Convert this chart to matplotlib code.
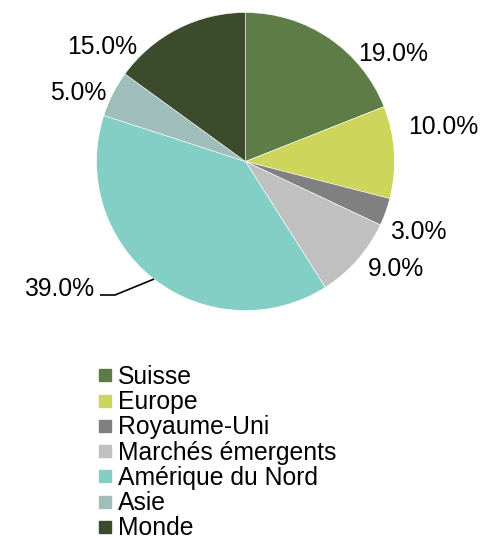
import matplotlib
matplotlib.use("Agg")
import matplotlib.pyplot as plt
from matplotlib.lines import Line2D

plt.rcParams['font.family'] = ['Liberation Sans', 'DejaVu Sans']

categories = ["Suisse", "Europe", "Royaume-Uni", "Marchés émergents",
              "Amérique du Nord", "Asie", "Monde"]
values = [19.0, 10.0, 3.0, 9.0, 39.0, 5.0, 15.0]
colors = ["#5e7d46", "#cdd55a", "#808080", "#c0c0c0", "#84cfc5", "#9ebdbb", "#3b4b2b"]
label_pos = [(0.99, 0.72), (1.33, 0.23), (1.16, -0.475), (1.01, -0.72),
             (-1.25, -0.855), (-1.12, 0.46), (-0.96, 0.77)]

W, H = 482, 537
fig = plt.figure(figsize=(W / 100, H / 100), dpi=100)
cx, cy, R = 245.5, 161.5, 149.0
ax_h = 340
ax = fig.add_axes([0, (H - ax_h) / H, 1, ax_h / H])
wedges, _ = ax.pie(values, colors=colors, startangle=90, counterclock=False,
                   radius=1.0, wedgeprops=dict(edgecolor="white", linewidth=0.4))
ax.set_aspect('auto')
ax.set_xlim(-cx / R, (W - cx) / R)
ax.set_ylim(-(ax_h - cy) / R, cy / R)
ax.axis('off')

fs = 17.8
for v, (x, y) in zip(values, label_pos):
    ax.text(x, y, f"{v:.1f}%", ha='center', va='center', fontsize=fs, color='#000000')

# leader line for 39.0%
ax.plot([-0.614, -0.876, -0.977], [-0.789, -0.896, -0.896], color='black', lw=1.2,
        solid_capstyle='butt')

handles = [Line2D([], [], marker='s', linestyle='none', markersize=8,
                  markerfacecolor=c, markeredgecolor=c) for c in colors]
leg = fig.legend(handles, categories, loc='upper left',
                 bbox_to_anchor=(98 / W, 1 - 365 / H), frameon=False,
                 fontsize=fs, handlelength=0.55, handletextpad=0.25,
                 labelspacing=0.05, borderpad=0, borderaxespad=0)

fig.savefig("out.png", dpi=100)
